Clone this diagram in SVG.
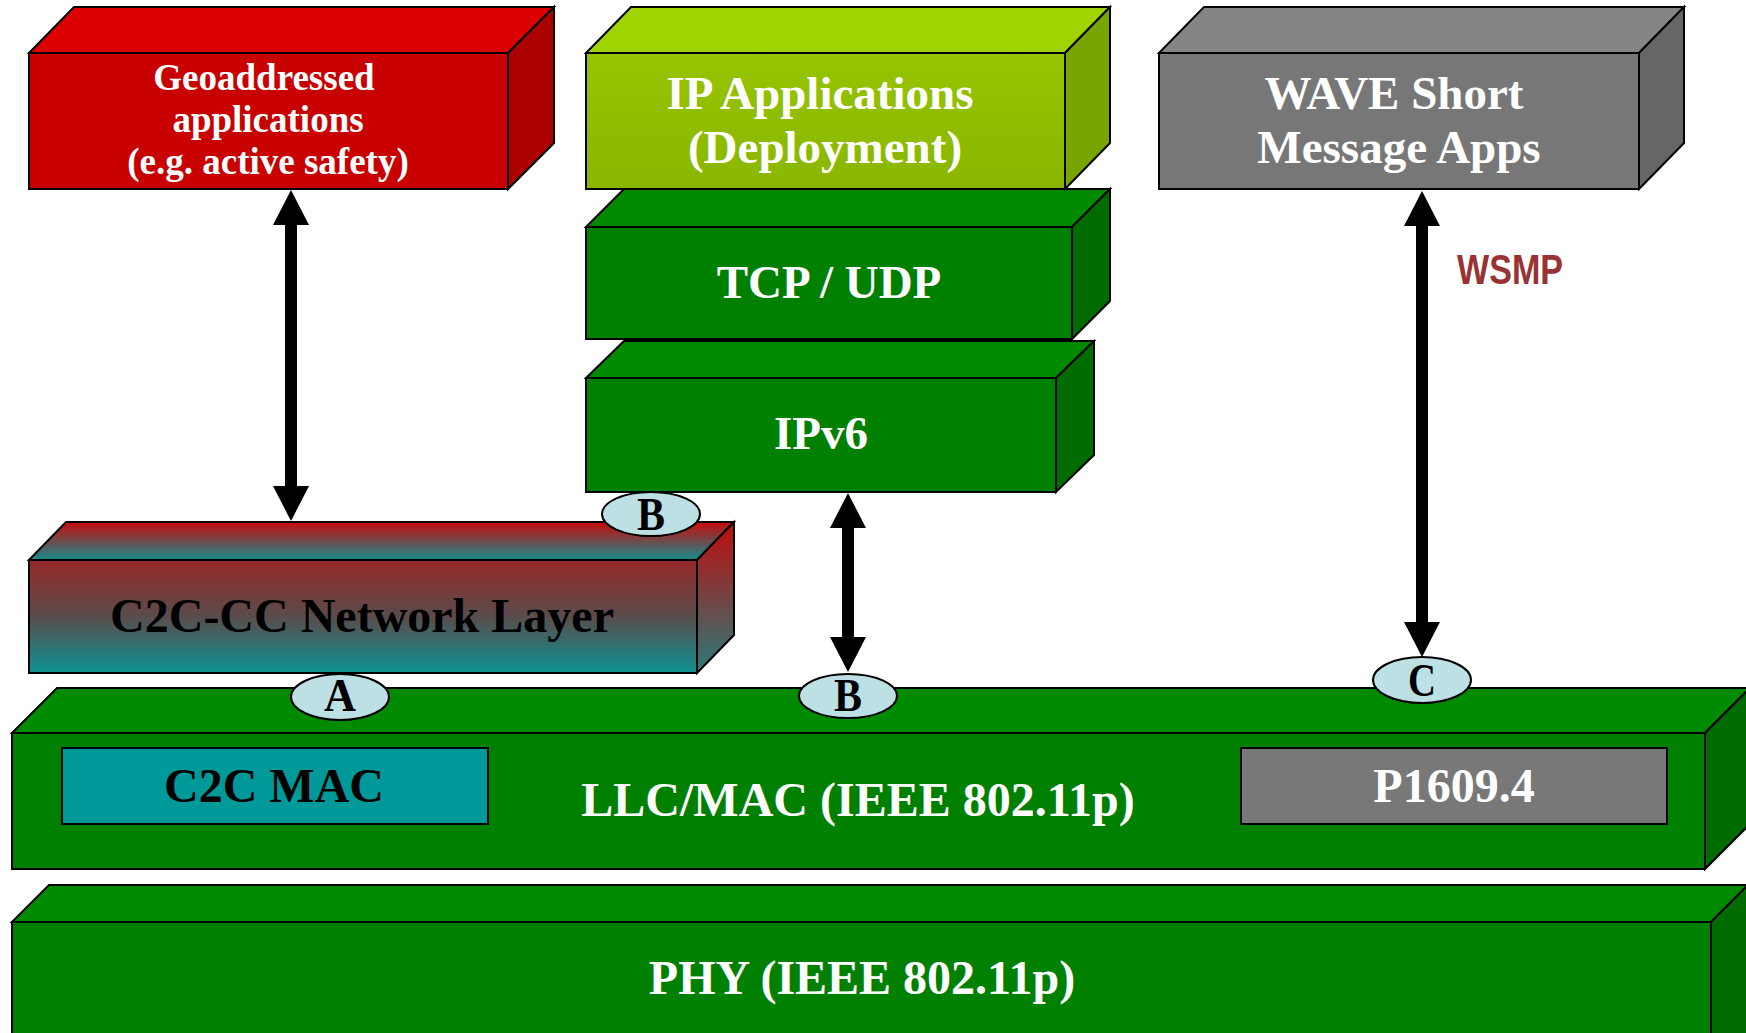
<svg xmlns="http://www.w3.org/2000/svg" width="1746" height="1033" viewBox="0 0 1746 1033">
<defs>
<style>
.e{stroke:#000;stroke-width:2;stroke-linejoin:miter}
.t{font-family:"Liberation Serif","Times New Roman",serif;font-weight:bold;text-anchor:middle}
.w{fill:#fff}
.k{fill:#000}
.gT{fill:#008a00}.gF{fill:#008000}.gS{fill:#006c00}
.lb{fill:#bde0e5;stroke:#000;stroke-width:2}
.arr{stroke:#000;stroke-width:12;fill:none}
.hd{fill:#000}
</style>
<linearGradient id="netF" x1="0" y1="0" x2="0" y2="1">
<stop offset="0" stop-color="#962828"/>
<stop offset="0.5" stop-color="#5a4c4c"/>
<stop offset="1" stop-color="#0e9292"/>
</linearGradient>
<linearGradient id="netT" x1="0" y1="0" x2="0" y2="1">
<stop offset="0" stop-color="#c80a0a"/>
<stop offset="1" stop-color="#168c8c"/>
</linearGradient>
<linearGradient id="netS" x1="0" y1="0" x2="0" y2="1">
<stop offset="0" stop-color="#c00c0c"/>
<stop offset="1" stop-color="#2a7a7a"/>
</linearGradient>
<linearGradient id="limeF" x1="0" y1="0" x2="0" y2="1">
<stop offset="0" stop-color="#96c400"/>
<stop offset="1" stop-color="#8ab600"/>
</linearGradient>
</defs>

<!-- PHY -->
<g id="phy">
<polygon class="e gT" points="12,922 49,885 1748,885 1711,922"/>
<polygon class="e gS" points="1711,922 1748,885 1748,1040 1711,1040"/>
<rect class="e gF" x="12" y="922" width="1699" height="120"/>
<text class="t w" x="862" y="994" font-size="48">PHY (IEEE 802.11p)</text>
</g>

<!-- LLC/MAC -->
<g id="llc">
<polygon class="e gT" points="12,733 57,688 1750,688 1705,733"/>
<polygon class="e gS" points="1705,733 1750,688 1750,824 1705,869"/>
<rect class="e gF" x="12" y="733" width="1693" height="136"/>
<text class="t w" x="858" y="816" font-size="48">LLC/MAC (IEEE 802.11p)</text>
</g>
<g id="c2cmac">
<rect class="e" x="62" y="748" width="426" height="76" fill="#009999"/>
<text class="t k" x="274" y="802" font-size="48">C2C MAC</text>
</g>
<g id="p16094">
<rect class="e" x="1241" y="748" width="426" height="76" fill="#787878"/>
<text class="t w" x="1454" y="802" font-size="48">P1609.4</text>
</g>

<!-- C2C-CC Network Layer -->
<g id="c2ccc">
<polygon class="e" fill="url(#netT)" points="29,560 66,522 734,522 697,560"/>
<polygon class="e" fill="url(#netS)" points="697,560 734,522 734,635 697,673"/>
<rect class="e" fill="url(#netF)" x="29" y="560" width="668" height="113"/>
<text class="t k" x="362" y="632" font-size="48">C2C-CC Network Layer</text>
</g>

<!-- IPv6 -->
<g id="ipv6">
<polygon class="e gT" points="586,378 624,341 1094,341 1056,378"/>
<polygon class="e gS" points="1056,378 1094,341 1094,455 1056,492"/>
<rect class="e gF" x="586" y="378" width="470" height="114"/>
<text class="t w" x="821" y="449" font-size="47">IPv6</text>
</g>

<!-- TCP/UDP -->
<g id="tcpudp">
<polygon class="e gT" points="586,227 624,189 1110,189 1072,227"/>
<polygon class="e gS" points="1072,227 1110,189 1110,301 1072,339"/>
<rect class="e gF" x="586" y="227" width="486" height="112"/>
<text class="t w" x="829" y="298" font-size="47">TCP / UDP</text>
</g>

<!-- Geoaddressed applications -->
<g id="geo">
<polygon class="e" fill="#dd0000" points="29,53 74,7 554,7 508,53"/>
<polygon class="e" fill="#ab0000" points="508,53 554,7 554,143 508,189"/>
<rect class="e" fill="#c80000" x="29" y="53" width="479" height="136"/>
<text class="t w" font-size="37"><tspan x="264" y="90">Geoaddressed</tspan><tspan x="268" y="132">applications</tspan><tspan x="268" y="174">(e.g. active safety)</tspan></text>
</g>

<!-- IP Applications -->
<g id="ipapps">
<polygon class="e" fill="#9fd400" points="586,53 631,7 1110,7 1065,53"/>
<polygon class="e" fill="#78a500" points="1065,53 1110,7 1110,143 1065,189"/>
<rect class="e" fill="url(#limeF)" x="586" y="53" width="479" height="136"/>
<text class="t w" font-size="47"><tspan x="820" y="109">IP Applications</tspan><tspan x="825" y="163">(Deployment)</tspan></text>
</g>

<!-- WAVE Short Message Apps -->
<g id="wave">
<polygon class="e" fill="#858585" points="1159,53 1204,7 1684,7 1639,53"/>
<polygon class="e" fill="#666666" points="1639,53 1684,7 1684,143 1639,189"/>
<rect class="e" fill="#777777" x="1159" y="53" width="480" height="136"/>
<text class="t w" font-size="47"><tspan x="1394" y="109">WAVE Short</tspan><tspan x="1399" y="163">Message Apps</tspan></text>
</g>

<!-- Connectors -->
<g id="connectors">
<line class="arr" x1="291" y1="222" x2="291" y2="489"/>
<polygon class="hd" points="291,190 309,225 273,225"/>
<polygon class="hd" points="291,521 309,486 273,486"/>

<line class="arr" x1="848" y1="525" x2="848" y2="640"/>
<polygon class="hd" points="848,493 866,528 830,528"/>
<polygon class="hd" points="848,672 866,637 830,637"/>

<line class="arr" x1="1422" y1="223" x2="1422" y2="626"/>
<polygon class="hd" points="1422,191 1440,226 1404,226"/>
<polygon class="hd" points="1422,657 1440,622 1404,622"/>
<text x="1457" y="284" font-family="'Liberation Sans',Arial,sans-serif" font-weight="bold" font-size="42" fill="#993333" textLength="106" lengthAdjust="spacingAndGlyphs">WSMP</text>
</g>

<!-- Interface labels -->
<g id="labelB1">
<ellipse class="lb" cx="651" cy="514" rx="49" ry="22"/>
<text class="t k" x="651" y="530" font-size="47" textLength="28" lengthAdjust="spacingAndGlyphs">B</text>
</g>
<g id="labelA">
<ellipse class="lb" cx="340" cy="697" rx="49" ry="23"/>
<text class="t k" x="340" y="711" font-size="47" textLength="32" lengthAdjust="spacingAndGlyphs">A</text>
</g>
<g id="labelB2">
<ellipse class="lb" cx="848" cy="696" rx="49" ry="22"/>
<text class="t k" x="848" y="711" font-size="47" textLength="28" lengthAdjust="spacingAndGlyphs">B</text>
</g>
<g id="labelC">
<ellipse class="lb" cx="1422" cy="680" rx="49" ry="23"/>
<text class="t k" x="1422" y="696" font-size="47" textLength="28" lengthAdjust="spacingAndGlyphs">C</text>
</g>
</svg>
